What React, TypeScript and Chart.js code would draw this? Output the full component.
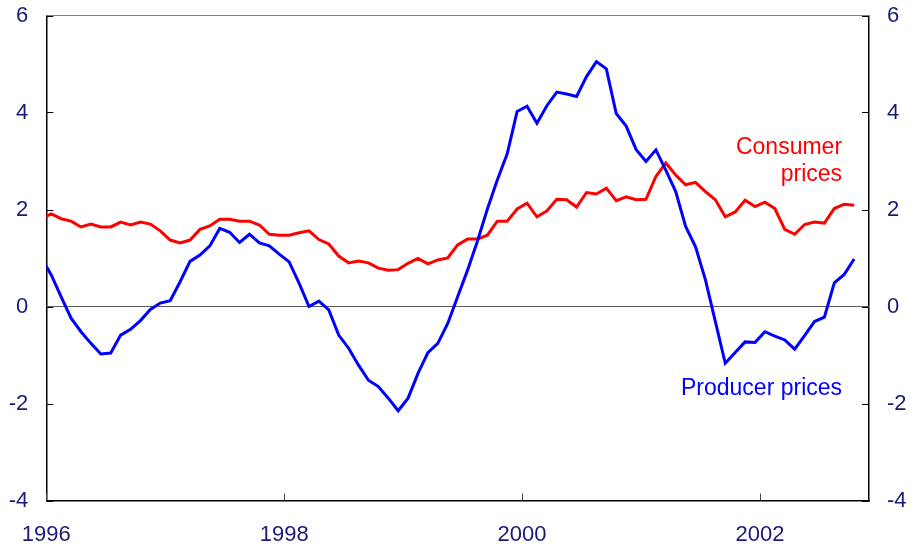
import React, { useEffect, useRef } from 'react';
import { Chart, registerables } from 'chart.js';

Chart.register(...registerables);

// Monthly data, first point is December 1995 (partly outside the axis), last is October 2002
const FIRST_YEAR = 1995;
const FIRST_MONTH_INDEX = 11; // December (0-based)

const consumerPrices = [
  1.81,
  1.91, 1.81, 1.76, 1.64, 1.70, 1.64, 1.64, 1.74, 1.68, 1.74, 1.70, 1.56, // 1996
  1.37, 1.31, 1.37, 1.59, 1.66, 1.80, 1.80, 1.76, 1.76, 1.68, 1.49, 1.47, // 1997
  1.47, 1.52, 1.56, 1.38, 1.29, 1.04, 0.90, 0.94, 0.90, 0.79, 0.75, 0.76, // 1998
  0.89, 0.99, 0.88, 0.96, 1.00, 1.27, 1.39, 1.39, 1.47, 1.76, 1.76, 2.01, // 1999
  2.13, 1.85, 1.97, 2.21, 2.20, 2.05, 2.35, 2.32, 2.44, 2.18, 2.26, 2.20, // 2000
  2.21, 2.68, 2.96, 2.71, 2.51, 2.56, 2.37, 2.20, 1.85, 1.95, 2.19, 2.06, // 2001
  2.15, 2.02, 1.59, 1.49, 1.69, 1.74, 1.72, 2.02, 2.11, 2.09, // 2002
];

const producerPrices = [
  1.01,
  0.65, 0.20, -0.24, -0.52, -0.76, -0.98, -0.96, -0.59, -0.47, -0.29, -0.06, 0.07, // 1996
  0.12, 0.51, 0.93, 1.06, 1.25, 1.61, 1.53, 1.32, 1.49, 1.31, 1.25, 1.08, // 1997
  0.92, 0.48, 0.00, 0.11, -0.07, -0.59, -0.86, -1.21, -1.52, -1.65, -1.89, -2.15, // 1998
  -1.89, -1.38, -0.95, -0.76, -0.35, 0.20, 0.75, 1.35, 2.01, 2.61, 3.15, 4.02, // 1999
  4.13, 3.78, 4.14, 4.42, 4.38, 4.33, 4.74, 5.05, 4.90, 3.98, 3.72, 3.24, // 2000
  2.99, 3.23, 2.81, 2.37, 1.65, 1.23, 0.55, -0.31, -1.17, -0.95, -0.73, -0.74, // 2001
  -0.52, -0.61, -0.69, -0.88, -0.60, -0.31, -0.22, 0.49, 0.66, 0.98, // 2002
];

const xTickYears = [1996, 1998, 2000, 2002];
const yTickValues = [-4, -2, 0, 2, 4, 6];
const X_MIN = 1996;
const X_MAX = 2002 + 11 / 12;
const Y_MIN = -4;
const Y_MAX = 6;

// Series labels placed in data coordinates (right-aligned)
const consumerLabelLines = ['Consumer', 'prices'];
const consumerLabelAnchor = { x: 2002.69, y: [3.15, 2.59] };
const producerLabelLines = ['Producer prices'];
const producerLabelAnchor = { x: 2002.69, y: [-1.82] };

const monthPosition = (i: number) => FIRST_YEAR + (FIRST_MONTH_INDEX + i + 0.5) / 12;

const TEXT_COLOR = '#1a1a78';
const FONT_FAMILY = "'Liberation Sans', Arial, sans-serif";

const decorPlugin = {
  id: 'decor',
  beforeDatasetsDraw(chart: any) {
    const { ctx, chartArea: a, scales } = chart;
    const y = scales.y;
    const x = scales.x;
    ctx.save();
    // top border
    ctx.strokeStyle = '#808080';
    ctx.lineWidth = 1.2;
    ctx.beginPath();
    ctx.moveTo(a.left, a.top);
    ctx.lineTo(a.right, a.top);
    ctx.stroke();
    // zero line
    const y0 = y.getPixelForValue(0);
    ctx.strokeStyle = '#5a5a5a';
    ctx.lineWidth = 1;
    ctx.beginPath();
    ctx.moveTo(a.left, y0);
    ctx.lineTo(a.right, y0);
    ctx.stroke();
    // inward tick marks on left and right
    ctx.strokeStyle = '#000';
    ctx.lineWidth = 1;
    yTickValues.forEach((v) => {
      const py = Math.round(y.getPixelForValue(v)) + 0.5;
      ctx.beginPath();
      ctx.moveTo(a.left, py);
      ctx.lineTo(a.left + 7, py);
      ctx.moveTo(a.right, py);
      ctx.lineTo(a.right - 7, py);
      ctx.stroke();
    });
    // inward tick marks on bottom
    ctx.strokeStyle = '#444';
    xTickYears.forEach((v) => {
      const px = Math.round(x.getPixelForValue(v)) + 0.5;
      ctx.beginPath();
      ctx.moveTo(px, a.bottom);
      ctx.lineTo(px, a.bottom - 7);
      ctx.stroke();
    });
    ctx.restore();
  },
  afterDraw(chart: any) {
    const { ctx, scales } = chart;
    const x = scales.x;
    const y = scales.y;
    ctx.save();
    ctx.font = `23px ${FONT_FAMILY}`;
    ctx.textAlign = 'right';
    ctx.textBaseline = 'alphabetic';
    ctx.fillStyle = '#ff0000';
    consumerLabelLines.forEach((t, i) => {
      ctx.fillText(t, x.getPixelForValue(consumerLabelAnchor.x), y.getPixelForValue(consumerLabelAnchor.y[i]));
    });
    ctx.fillStyle = '#0000ff';
    producerLabelLines.forEach((t, i) => {
      ctx.fillText(t, x.getPixelForValue(producerLabelAnchor.x), y.getPixelForValue(producerLabelAnchor.y[i]));
    });
    ctx.restore();
  },
};

export default function App() {
  const canvasRef = useRef<HTMLCanvasElement | null>(null);

  useEffect(() => {
    if (!canvasRef.current) return;
    const consumerData = consumerPrices.map((v, i) => ({ x: monthPosition(i), y: v }));
    const producerData = producerPrices.map((v, i) => ({ x: monthPosition(i), y: v }));
    const tickFont = { family: FONT_FAMILY, size: 22 };
    const fitVertical = (w: number) => (s: any) => {
      s.width = w;
      s.paddingTop = 0;
      s.paddingBottom = 0;
    };

    const chart = new Chart(canvasRef.current, {
      type: 'line',
      data: {
        datasets: [
          {
            label: 'Producer prices',
            data: producerData,
            borderColor: '#0000ff',
            borderWidth: 3,
            pointRadius: 0,
            tension: 0,
            fill: false,
            clip: 0,
          },
          {
            label: 'Consumer prices',
            data: consumerData,
            borderColor: '#ff0000',
            borderWidth: 3,
            pointRadius: 0,
            tension: 0,
            fill: false,
            clip: 0,
          },
        ],
      },
      options: {
        animation: false,
        responsive: false,
        maintainAspectRatio: false,
        layout: { autoPadding: false, padding: { top: 15.5, left: 0, right: 0, bottom: 0 } },
        plugins: {
          legend: { display: false },
          tooltip: { enabled: false },
        },
        scales: {
          x: {
            type: 'linear',
            min: X_MIN,
            max: X_MAX,
            afterBuildTicks: (s: any) => {
              s.ticks = xTickYears.map((v) => ({ value: v }));
            },
            afterFit: (s: any) => {
              s.height = 46.5;
              s.paddingLeft = 0;
              s.paddingRight = 0;
            },
            grid: { display: false, drawTicks: false },
            border: { display: true, color: '#000', width: 1.5 },
            ticks: {
              color: TEXT_COLOR,
              font: tickFont,
              padding: 21,
              maxRotation: 0,
              autoSkip: false,
              callback: (v: any) => String(v),
            },
          },
          y: {
            type: 'linear',
            position: 'left',
            min: Y_MIN,
            max: Y_MAX,
            afterBuildTicks: (s: any) => {
              s.ticks = yTickValues.map((v) => ({ value: v }));
            },
            afterFit: fitVertical(46.3),
            grid: { display: false, drawTicks: false },
            border: { display: true, color: '#000', width: 1.5 },
            ticks: { color: TEXT_COLOR, font: tickFont, padding: 18, callback: (v: any) => String(v) },
          },
          y2: {
            type: 'linear',
            position: 'right',
            min: Y_MIN,
            max: Y_MAX,
            afterBuildTicks: (s: any) => {
              s.ticks = yTickValues.map((v) => ({ value: v }));
            },
            afterFit: fitVertical(45),
            grid: { display: false, drawTicks: false },
            border: { display: true, color: '#000', width: 1.5 },
            ticks: { color: TEXT_COLOR, font: tickFont, padding: 18, callback: (v: any) => String(v) },
          },
        },
      },
      plugins: [decorPlugin],
    } as any);

    return () => chart.destroy();
  }, []);

  return (
    <div style={{ position: 'fixed', left: 0, top: 0, width: 914, height: 547, background: '#fff' }}>
      <canvas ref={canvasRef} width={914} height={547} style={{ display: 'block' }} />
    </div>
  );
}
